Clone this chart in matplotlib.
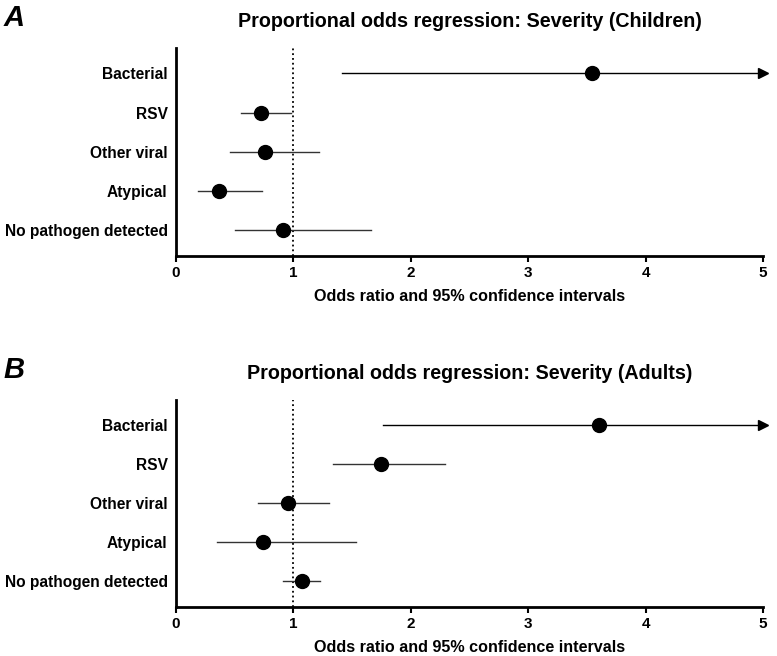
import matplotlib.pyplot as plt
import numpy as np

plt.rcParams['font.family'] = ['Liberation Sans', 'DejaVu Sans']

categories = ["Bacterial", "RSV", "Other viral", "Atypical", "No pathogen detected"]

# Children
or_child = [3.54, 0.72, 0.76, 0.37, 0.91]
lo_child = [1.41, 0.55, 0.46, 0.19, 0.50]
hi_child = [None, 0.98, 1.22, 0.73, 1.66]   # None = goes beyond axis

# Adults
or_adult = [3.60, 1.75, 0.95, 0.74, 1.07]
lo_adult = [1.76, 1.34, 0.70, 0.35, 0.91]
hi_adult = [None, 2.29, 1.30, 1.53, 1.23]

XMAX = 5


def forest(ax, est, lo, hi, title):
    ypos = np.arange(len(categories))[::-1]
    for y, e, l, h in zip(ypos, est, lo, hi):
        if h is None:
            ax.plot([l, XMAX], [y, y], color='black', lw=1.0, zorder=2)
            ax.plot([XMAX], [y], marker='>', color='black', ms=7,
                    clip_on=False, zorder=3)
        else:
            ax.plot([l, h], [y, y], color='#333333', lw=1.0, zorder=2)
        ax.plot([e], [y], 'o', color='black', ms=10, zorder=4)

    ax.axvline(1, color='black', ls=':', lw=1.3, zorder=1)
    ax.set_xlim(0, XMAX)
    ax.set_ylim(-0.66, len(categories) - 0.35)
    ax.set_yticks(ypos)
    ax.set_yticklabels(categories, fontsize=11.2, fontweight='bold')
    ax.tick_params(axis='y', length=0, pad=6)
    ax.set_xticks(range(0, XMAX + 1))
    ax.tick_params(axis='x', labelsize=11, width=1.5, length=4, direction='out')
    for lab in ax.get_xticklabels():
        lab.set_fontweight('bold')
    for s in ['top', 'right']:
        ax.spines[s].set_visible(False)
    for s in ['left', 'bottom']:
        ax.spines[s].set_linewidth(2)
    ax.set_xlabel("Odds ratio and 95% confidence intervals", fontsize=11.6,
                  fontweight='bold', labelpad=6)
    ax.set_title(title, fontsize=14.2, fontweight='bold', pad=15)
    return ax


fig = plt.figure(figsize=(7.77, 6.56), dpi=100)
axA = fig.add_axes([0.2265, 0.6098, 0.7555, 0.317])
axB = fig.add_axes([0.2265, 0.0747, 0.7555, 0.3155])

forest(axA, or_child, lo_child, hi_child,
       "Proportional odds regression: Severity (Children)")
forest(axB, or_adult, lo_adult, hi_adult,
       "Proportional odds regression: Severity (Adults)")

fig.text(0.004, 0.972, "A", fontsize=21, fontweight='bold', style='italic',
         va='center')
fig.text(0.004, 0.436, "B", fontsize=21, fontweight='bold', style='italic',
         va='center')

fig.savefig("out.png", dpi=100)
